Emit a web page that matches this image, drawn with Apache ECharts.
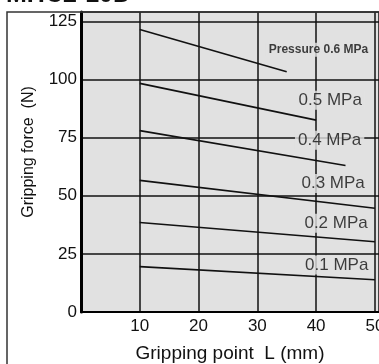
<!DOCTYPE html>
<html><head><meta charset="utf-8">
<script src="https://cdn.jsdelivr.net/npm/echarts@6/dist/echarts.min.js"></script>
<style>html,body{margin:0;padding:0;background:#fff}#c{width:379px;height:364px}</style>
</head><body><div id="c"></div>
<script>
// Data
const pressureLabels = ['Pressure 0.6 MPa', '0.5 MPa', '0.4 MPa', '0.3 MPa', '0.2 MPa', '0.1 MPa'];
const line06 = [[10, 121.5], [35, 103.3]];
const line05 = [[10, 98.3], [40, 82.5]];
const line04 = [[10, 78.0], [45, 63.0]];
const line03 = [[10, 56.6], [50, 44.6]];
const line02 = [[10, 38.5], [50, 30.2]];
const line01 = [[10, 19.5], [50, 13.9]];
const labelAnchors = [[40.4, 112.8], [42.4, 91.0], [42.3, 73.9], [42.9, 55.3], [43.4, 38.2], [43.5, 20.2]];
const xTicks = [10, 20, 30, 40, 50];
const yTicks = [0, 25, 50, 75, 100, 125];
const title = 'MHC2-10D';
const xName = 'Gripping point  L (mm)';
const yName = 'Gripping force  (N)';

const FONT = '"Liberation Sans", Arial, sans-serif';
const chart = echarts.init(document.getElementById('c'), null, {renderer: 'canvas'});
const lines = [line06, line05, line04, line03, line02, line01];
const series = lines.map(d => ({
  type: 'line', data: d, symbol: 'none', silent: true,
  lineStyle: {color: '#111', width: 1.6}, z: 3
}));
series.push({
  type: 'scatter', symbolSize: 0, z: 5, silent: true,
  data: labelAnchors.map((p, i) => ({
    value: p,
    label: i === 0 ? {fontWeight: 'bold', fontSize: 12} : {}
  })),
  label: {
    show: true, position: 'inside',
    formatter: p => pressureLabels[p.dataIndex],
    color: '#111', fontFamily: FONT, fontSize: 17,
    backgroundColor: '#e1e1e1', padding: [1, 3]
  }
});

chart.setOption({
  animation: false,
  backgroundColor: '#fff',
  grid: {left: 81, top: 12, right: 0, bottom: 52, show: true, backgroundColor: '#e1e1e1', borderWidth: 0,
    containLabel: false, outerBoundsMode: 'none'},
  xAxis: {
    type: 'value', min: 0, max: 50.7, interval: 10,
    name: xName, nameLocation: 'middle', nameGap: 32,
    nameTextStyle: {fontFamily: FONT, fontSize: 19, color: '#111'},
    axisLine: {show: true, lineStyle: {color: '#000', width: 2}},
    axisTick: {show: false},
    axisLabel: {fontFamily: FONT, fontSize: 17, color: '#111', margin: 6, hideOverlap: false,
      formatter: v => xTicks.indexOf(v) >= 0 ? String(v) : ''},
    splitLine: {show: true, lineStyle: {color: '#111', width: 1.5}}
  },
  yAxis: {
    type: 'value', min: 0, max: 129, interval: 25,
    name: yName, nameLocation: 'middle', nameGap: 44,
    nameTextStyle: {fontFamily: FONT, fontSize: 16, color: '#111', padding: [0, 0, 0, 20]},
    axisLine: {show: true, lineStyle: {color: '#000', width: 3}},
    axisTick: {show: false},
    axisLabel: {fontFamily: FONT, fontSize: 17, color: '#111', margin: 4, padding: [5, 0, 0, 0],
      formatter: v => yTicks.indexOf(v) >= 0 ? String(v) : ''},
    splitLine: {show: true, lineStyle: {color: '#111', width: 1.5}}
  },
  graphic: [
    {type: 'rect', shape: {x: 7, y: 12, width: 420, height: 420}, z: 10, silent: true,
      style: {fill: 'none', stroke: '#333', lineWidth: 1.5}},
    {type: 'text', left: 6, top: -17, z: 10, silent: true,
      style: {text: title, font: 'bold 25px "Liberation Sans", Arial, sans-serif', fill: '#111'}}
  ],
  series: series
});
</script></body></html>
